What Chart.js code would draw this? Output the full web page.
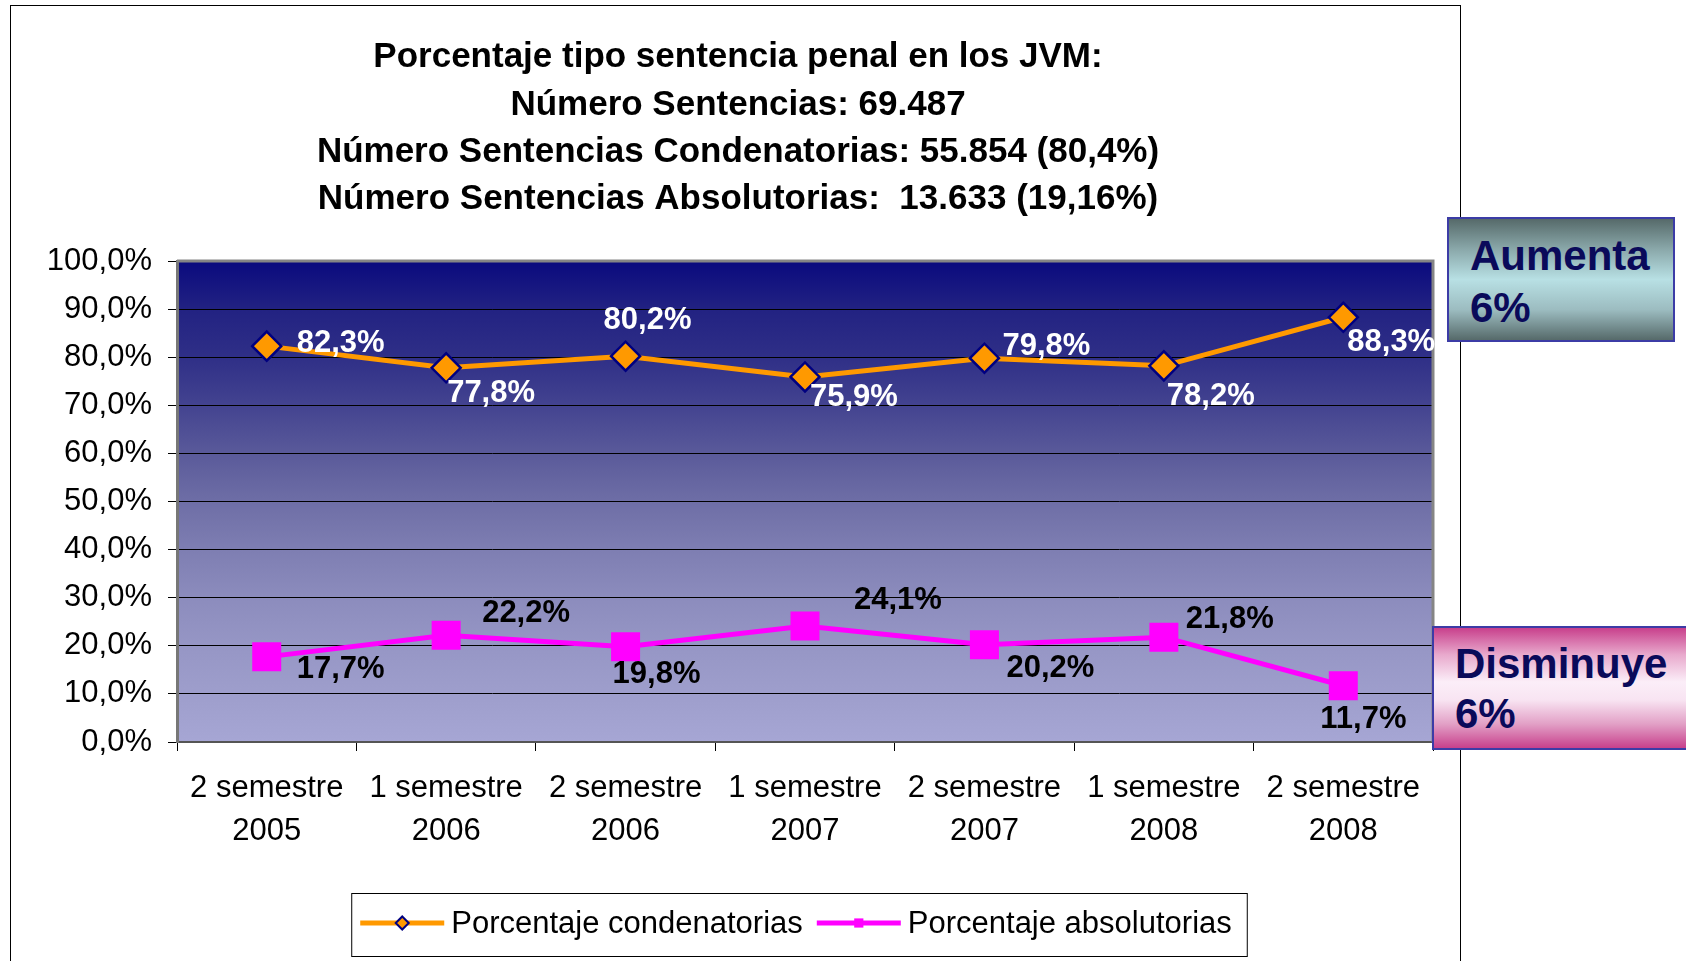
<!DOCTYPE html>
<html>
<head>
<meta charset="utf-8">
<script src="https://cdn.jsdelivr.net/npm/chart.js@4"></script>
<style>
  html, body { margin: 0; padding: 0; background: #fff; overflow: hidden; width: 1686px; height: 961px; }
  #frame { position: absolute; left: 10px; top: 5px; width: 1449px; height: 990px; border: 1px solid #000; }
  #wrap { position: absolute; left: 11px; top: 6px; width: 1449px; height: 955px; }
  .note { position: absolute; box-sizing: border-box; border: 2px solid #3c3ca6;
          font: bold 42px "Liberation Sans", Arial, sans-serif; color: #0a0a5a; }
  #up { left: 1447px; top: 217px; width: 228px; height: 125px; padding: 11px 0 0 21px; line-height: 52px;
        background: linear-gradient(to bottom, #566a6a 0%, #8aa8aa 25%, #b8e0e4 50%, #9cbcc0 75%, #566a6a 100%); }
  #down { left: 1432px; top: 626px; width: 270px; height: 124px; padding: 11px 0 0 21px; line-height: 50px;
          background: linear-gradient(to bottom, #c8408c 0%, #e8a8cc 22%, #fbeef8 45%, #f8e4f2 60%, #e2a0c6 80%, #c8408c 100%); }
</style>
</head>
<body>
<div id="frame"></div>
<div id="wrap"><canvas id="chart"></canvas></div>
<div class="note" id="up">Aumenta<br>6%</div>
<div class="note" id="down">Disminuye<br>6%</div>
<script>
const categories = [
  ["2 semestre", "2005"], ["1 semestre", "2006"], ["2 semestre", "2006"],
  ["1 semestre", "2007"], ["2 semestre", "2007"], ["1 semestre", "2008"],
  ["2 semestre", "2008"]
];
const condenatorias = [82.3, 77.8, 80.2, 75.9, 79.8, 78.2, 88.3];
const absolutorias = [17.7, 22.2, 19.8, 24.1, 20.2, 21.8, 11.7];
const titleLines = [
  "Porcentaje tipo sentencia penal en los JVM:",
  "Número Sentencias: 69.487",
  "Número Sentencias Condenatorias: 55.854 (80,4%)",
  "Número Sentencias Absolutorias:  13.633 (19,16%)"
];

// where each value label sits relative to its point (left edge, vertical middle)
const condLabelOffsets = [[30, -3], [1, 26], [-22, -36], [5, 21], [18, -12], [3, 31], [4, 25]];
const absLabelOffsets = [[30, 13], [36, -22], [-13, 28], [49, -26], [22, 24], [22, -18], [-23, 34]];

const FONT = '"Liberation Sans", Arial, sans-serif';
const fmt = v => v.toFixed(1).replace(".", ",") + "%";

const plotBackground = {
  id: "plotBackground",
  beforeDraw(chart) {
    const { ctx, chartArea: a } = chart;
    const g = ctx.createLinearGradient(0, a.top, 0, a.bottom);
    g.addColorStop(0, "#0a0a7e");
    g.addColorStop(0.1, "#222282");
    g.addColorStop(0.2, "#2f2f87");
    g.addColorStop(0.3, "#434390");
    g.addColorStop(0.4, "#5a5a9a");
    g.addColorStop(0.5, "#6e6ea6");
    g.addColorStop(0.6, "#7e7eb2");
    g.addColorStop(0.7, "#8c8cbd");
    g.addColorStop(0.8, "#9696c5");
    g.addColorStop(0.9, "#9e9ecc");
    g.addColorStop(1, "#a6a6d4");
    ctx.save();
    ctx.fillStyle = g;
    ctx.fillRect(a.left, a.top, a.right - a.left, a.bottom - a.top);
    ctx.restore();
  },
  beforeDatasetsDraw(chart) {
    const { ctx, chartArea: a } = chart;
    ctx.save();
    ctx.strokeStyle = "#858585";
    ctx.lineWidth = 3;
    ctx.beginPath();
    ctx.moveTo(a.left, a.top);
    ctx.lineTo(a.right, a.top);
    ctx.lineTo(a.right, a.bottom);
    ctx.stroke();
    ctx.restore();
  }
};

const valueLabels = {
  id: "valueLabels",
  afterDatasetsDraw(chart) {
    const ctx = chart.ctx;
    const offsets = [condLabelOffsets, absLabelOffsets];
    const colors = ["#ffffff", "#000000"];
    ctx.save();
    ctx.font = "bold 31px " + FONT;
    ctx.textAlign = "left";
    ctx.textBaseline = "middle";
    chart.data.datasets.forEach((ds, di) => {
      const meta = chart.getDatasetMeta(di);
      ctx.fillStyle = colors[di];
      meta.data.forEach((pt, i) => {
        const [dx, dy] = offsets[di][i];
        ctx.fillText(fmt(ds.data[i]), pt.x + dx, pt.y + dy);
      });
    });
    ctx.restore();
  }
};

const boxLegend = {
  id: "boxLegend",
  afterDraw(chart) {
    const { ctx, chartArea: a } = chart;
    const lineLen = 84, gap = 7, itemGap = 14, padL = 9, padR = 15;
    ctx.save();
    ctx.font = "31px " + FONT;
    const items = chart.data.datasets.map(ds => ({ ds, w: ctx.measureText(ds.label).width }));
    let total = padL + padR + itemGap * (items.length - 1);
    items.forEach(it => total += lineLen + gap + it.w);
    const boxX = (a.left + a.right) / 2 - total / 2 - 6;
    const boxY = a.bottom + 151;
    const cy = boxY + 30;
    ctx.fillStyle = "#fff";
    ctx.fillRect(boxX, boxY, total, 63);
    ctx.strokeStyle = "#000";
    ctx.lineWidth = 1;
    ctx.strokeRect(boxX + 0.5, boxY + 0.5, total, 63);
    let x = boxX + padL;
    items.forEach(({ ds, w }) => {
      ctx.strokeStyle = ds.borderColor;
      ctx.lineWidth = 5;
      ctx.beginPath();
      ctx.moveTo(x, cy);
      ctx.lineTo(x + lineLen, cy);
      ctx.stroke();
      ctx.fillStyle = ds.pointBackgroundColor;
      ctx.strokeStyle = ds.pointBorderColor;
      ctx.lineWidth = ds.pointStyle === "rect" ? 0.01 : 2;
      Chart.helpers.drawPoint(ctx, {
        pointStyle: ds.pointStyle,
        radius: ds.pointStyle === "rect" ? 6.5 : 6.5,
        borderWidth: ctx.lineWidth
      }, x + lineLen / 2, cy);
      ctx.fillStyle = "#000";
      ctx.textAlign = "left";
      ctx.textBaseline = "middle";
      ctx.fillText(ds.label, x + lineLen + gap, cy + 1);
      x += lineLen + gap + w + itemGap;
    });
    ctx.restore();
  }
};

new Chart(document.getElementById("chart"), {
  type: "line",
  data: {
    labels: categories,
    datasets: [
      {
        label: "Porcentaje condenatorias",
        data: condenatorias,
        borderColor: "#ff9900",
        borderWidth: 5,
        pointStyle: "rectRot",
        pointRadius: 14.5,
        pointBackgroundColor: "#ff9900",
        pointBorderColor: "#000080",
        pointBorderWidth: 2.5,
        tension: 0
      },
      {
        label: "Porcentaje absolutorias",
        data: absolutorias,
        borderColor: "#ff00ff",
        borderWidth: 5,
        pointStyle: "rect",
        pointRadius: 20.5,
        pointBackgroundColor: "#ff00ff",
        pointBorderColor: "#ff00ff",
        pointBorderWidth: 0,
        tension: 0
      }
    ]
  },
  options: {
    responsive: true,
    maintainAspectRatio: false,
    animation: false,
    events: [],
    layout: { padding: { left: 32, right: 27, top: 0, bottom: 0 } },
    scales: {
      x: {
        offset: true,
        grid: { offset: true, drawOnChartArea: false, drawTicks: true, tickLength: 9, color: "#000", lineWidth: 1 },
        border: { color: "#555", width: 2 },
        ticks: {
          font: { family: FONT, size: 31, lineHeight: 1.39 },
          color: "#000",
          padding: 16,
          maxRotation: 0,
          autoSkip: false
        },
        afterFit(scale) { scale.height = 219; }
      },
      y: {
        min: 0,
        max: 100,
        grid: { color: "#000", lineWidth: 1, drawTicks: true, tickLength: 9 },
        border: { color: "#777", width: 3 },
        ticks: {
          stepSize: 10,
          font: { family: FONT, size: 31 },
          color: "#000",
          padding: 16,
          callback: v => fmt(v)
        },
        afterFit(scale) { scale.width = 134; }
      }
    },
    plugins: {
      legend: { display: false },
      tooltip: { enabled: false },
      title: {
        display: true,
        text: titleLines,
        color: "#000",
        font: { family: FONT, size: 35, weight: "bold", lineHeight: 1.35 },
        padding: { top: 28, bottom: 38 }
      }
    }
  },
  plugins: [plotBackground, valueLabels, boxLegend]
});
</script>
</body>
</html>
